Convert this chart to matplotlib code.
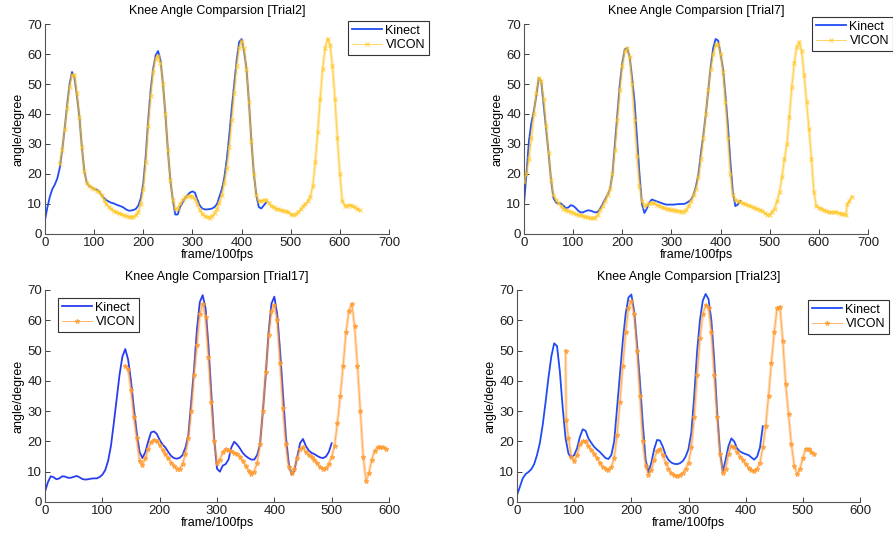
import matplotlib
matplotlib.use('Agg')
from matplotlib import pyplot as plt
import numpy as np

plt.rcParams['font.family'] = ['Liberation Sans', 'DejaVu Sans']

# frame step of the values
STEP = 5

# ---- Trial2 ----
kin2_start = 0
kin2 = [4.7, 9, 12.5, 15, 16.5, 18.5, 22, 28, 35, 43, 50, 54, 52, 46, 39, 29, 21, 17, 16, 15.5,
        15, 14.8, 14.2, 13, 12, 11.3, 10.8, 10.4, 10.2, 9.8, 9.5, 9.2, 8.8, 8.2, 7.8, 7.8, 8, 8.4, 9.5, 12,
        17, 26, 38, 48, 55, 59.5, 61, 58, 50, 40, 28, 18, 11.5, 6.5, 6.5, 9, 10.5, 12, 13, 13.8,
        14.2, 13.8, 11.5, 9.5, 8.5, 8.2, 8.2, 8.3, 8.5, 9, 10, 12.5, 15, 19, 25, 33, 42, 50, 58, 64,
        65, 61, 55, 44, 31, 20, 13, 9, 8.5, 9.5, 10.5]
vic2_start = 30
vic2 = [23.5, 28, 35, 42, 49, 53, 53, 47, 39, 29, 21, 17, 16, 15.5, 15, 14.5, 14, 13, 11.5, 10,
        9, 8.3, 7.7, 7.2, 7, 6.6, 6.3, 6, 5.8, 5.7, 5.8, 6.2, 7.5, 10, 15, 24, 36, 46, 54, 58.5,
        59.5, 57, 50, 40, 28, 18, 11.5, 8.5, 8.5, 10, 11.5, 12.2, 12.7, 12.8, 12.5, 11.8, 10, 8, 6.8, 6,
        5.6, 5.5, 6, 7, 8.5, 10.5, 13, 17, 22, 29, 38, 47, 56, 62, 64.5, 62, 55, 44, 31, 20,
        13, 11, 11, 11.2, 11.3, 10.5, 9.5, 9, 8.5, 8.2, 8, 7.8, 7.6, 7.2, 6.6, 6.3, 6.6, 7.2, 8.2, 9.2,
        10, 11, 12.5, 16, 24, 34, 45, 55, 62, 65, 63, 56, 45, 32, 20, 11, 9.5, 9.5, 9.6, 9.4,
        9, 8.5, 8]

# ---- Trial7 ----
kin7_start = 0
kin7 = [10, 20, 31, 37, 41, 46, 52, 51, 43, 35, 27, 18, 12, 10.5, 10.2, 10.2, 9.5, 8.7, 8.8, 9.6,
        9.4, 8.7, 7.8, 7.2, 7.2, 7.6, 7.9, 7.8, 7.5, 7.2, 7.3, 8.5, 10, 11.5, 13, 15, 20, 30, 40, 50,
        57, 61.5, 62, 59, 52, 44, 32, 20, 10, 7, 8.5, 10.5, 11.5, 11.2, 10.9, 10.6, 10.3, 10, 9.8, 9.8,
        9.8, 9.8, 9.9, 10, 10, 10, 10.3, 10.8, 11.5, 13, 16, 20, 27, 33, 40, 48, 56, 62, 65, 64.5,
        60, 55, 46, 36, 24, 14, 9.3, 9.8, 11]
vic7_start = 0
vic7 = [17.5, 20, 25, 32, 40, 47, 52, 51, 45, 36, 27, 18, 13, 11.5, 10.5, 9.5, 8.5, 8, 7.8, 7.5,
        7, 6.7, 6.4, 6.2, 6, 5.8, 5.6, 5.3, 5.2, 5.5, 6.5, 8, 9.5, 11, 13, 15, 20, 28, 38, 48,
        56, 61, 62, 59, 50, 38, 26, 16, 11, 9.5, 9.7, 10.3, 10.5, 10.2, 9.8, 9.5, 9, 8.7, 8.4, 8.2,
        8, 8, 7.8, 7.7, 7.5, 7.5, 8, 9.5, 11, 13, 15, 19, 25, 32, 40, 48, 55, 60, 63, 63.5,
        60, 54, 44, 32, 20, 13, 11.5, 11, 10.7, 10.3, 10, 9.6, 9.3, 9, 8.6, 8.3, 8, 7.6, 7, 6.5,
        6.5, 7.5, 8.5, 11, 14, 19, 25, 30, 39, 49, 57, 62.5, 64, 61, 53, 44, 35, 25, 14, 9.2,
        8.8, 8.5, 8, 7.6, 7.3, 7.2, 7.2, 7.2, 7, 6.8, 6.7, 6.2]
vic7_tail_x = [658, 662, 667]
vic7_tail = [10, 11, 12.5]

# ---- Trial17 ----
kin17_start = 0
kin17 = [3.4, 6.5, 8.5, 8.2, 7.5, 7.8, 8.5, 8.4, 8, 8, 8.3, 8.6, 8.2, 7.6, 7.4, 7.5, 7.7, 7.8, 7.8, 8.2,
         9, 10.5, 13.5, 18.5, 26, 34, 42, 48, 50.5, 47, 40, 31, 23, 16.5, 14.5, 16.5, 20, 23, 23.3, 22.5,
         20.5, 19, 18, 16.5, 15.2, 14.5, 14.3, 14.6, 15.5, 18, 22, 33, 44, 57, 66, 68.3, 64, 52, 36, 21,
         11, 10, 12, 12.5, 14, 18, 19.9, 19, 17.7, 16.2, 15.2, 14.5, 14, 14, 15.5, 19, 30, 42, 56, 65.5,
         67.8, 62, 50, 36, 22, 13, 9, 10.5, 15, 19.5, 20.8, 18.5, 17, 16.2, 15.8, 15.2, 14.7, 14.5, 15, 16.5,
         19.4]
vic17_start = 140
vic17 = [45, 44, 37, 28, 21, 13.5, 12.2, 14.5, 17.5, 19.8, 20.6, 20, 18.8, 17.2, 15.8, 14.6, 13, 12, 11, 11,
         12.5, 16, 21, 30, 42, 52, 62, 65.5, 61, 48, 33, 20, 13, 14, 16.5, 17.5, 17.3, 16.8, 16.3, 15.7,
         15, 13.5, 12, 10.3, 9.4, 10, 13, 19, 30, 43, 55, 63, 65, 60, 46, 31, 19, 11.5, 9.5, 11,
         14.5, 17.5, 18, 16.5, 15.5, 14.8, 14, 12.8, 11.5, 11, 11.3, 12.5, 15, 18.5, 26, 35, 45, 56, 63, 65.5,
         58, 45, 30, 15, 7, 9.5, 14, 17, 18, 18.2, 18, 17.5]

# ---- Trial23 ----
kin23_start = 0
kin23 = [2.3, 5, 7.8, 9.2, 9.9, 10.8, 12.5, 15.5, 19.5, 25.5, 33, 41, 48, 52.4, 51.5, 43, 31, 21, 16, 14.6,
         15.5, 17.7, 21.5, 24, 23.5, 21, 19.5, 18.2, 17.3, 16.5, 15.5, 14.5, 14.2, 15.5, 20, 31, 42, 53, 62, 67.5,
         68.5, 63, 52, 40, 26, 14, 9.8, 13, 17.5, 20.5, 20.3, 18.3, 15.5, 13.9, 13, 12.6, 12.5, 12.8, 13.5, 15,
         17.5, 23, 35, 49.6, 60, 66.5, 68.7, 67, 60, 47, 30, 17, 10, 14, 18.5, 21, 20, 17.7, 16.7, 16.2,
         15.8, 15.5, 14.7, 14, 15, 18, 25]
vic23_head_x = [85, 86]
vic23_head = [50, 27]
vic23_start = 90
vic23 = [21, 15, 13.5, 15.5, 19, 20.2, 20, 18.5, 17.3, 16, 14.5, 13, 11.5, 11, 10.7, 11.5, 14.5, 22, 33, 45,
         56, 64, 66.5, 62, 50, 35, 20, 12, 9, 10.5, 14, 17, 17.5, 15.5, 13, 11, 9.5, 8.8, 8.5, 8.8,
         9.5, 11, 13, 18, 28, 42, 54, 62, 65, 64, 56, 42, 28, 16, 9.5, 11, 16, 18.5, 18, 16.5,
         15, 13.8, 12.5, 11.3, 10.5, 10.3, 11, 13, 18, 25, 35, 46, 56, 64, 64.5, 53, 39, 29, 19, 12,
         9.2, 11, 14.5, 17.5, 17.5, 16.5, 15.8]


def frames(start, vals):
    return np.arange(start, start + STEP * len(vals), STEP)


W, H = 893, 535
fig = plt.figure(figsize=(W / 100, H / 100), dpi=100)

BLUE = '#1f4cf5'
BLUE2 = '#2a3cf0'
YELLOW = '#ffc51e'
ORANGE = '#ff9a2e'

panels = [
    # title, kinect, vicon, axes px (left, top, width, height), xmax, vicon colour, marker, kinect colour, legend px
    ('Trial2', (frames(kin2_start, kin2), kin2), (frames(vic2_start, vic2), vic2),
     (45, 24, 344, 210), 700, YELLOW, 'x', BLUE, (348, 21)),
    ('Trial7', (frames(kin7_start, kin7), kin7),
     (np.concatenate([frames(vic7_start, vic7), vic7_tail_x]), vic7 + vic7_tail),
     (524, 24, 344, 210), 700, YELLOW, 'x', BLUE, (812, 17)),
    ('Trial17', (frames(kin17_start, kin17), kin17), (frames(vic17_start, vic17), vic17),
     (45, 290, 344, 212), 600, ORANGE, '*', BLUE2, (58, 298)),
    ('Trial23', (frames(kin23_start, kin23), kin23),
     (np.concatenate([vic23_head_x, frames(vic23_start, vic23)]), vic23_head + vic23),
     (517, 290, 343, 212), 600, ORANGE, '*', BLUE, (808, 300)),
]

for title, kin, vic, (l, t, w, h), xmax, vcol, mk, kcol, (lx, ly) in panels:
    ax = fig.add_axes([l / W, 1 - (t + h) / H, w / W, h / H])
    ax.plot(kin[0], kin[1], color=kcol, lw=1.3, label='Kinect', zorder=2)
    # translucent band under the markers, like the dense VICON trace
    ax.plot(vic[0], vic[1], color=vcol, lw=2.2, alpha=0.35, zorder=3)
    ax.plot(vic[0], vic[1], color=vcol, lw=0.7, marker=mk, ms=3.5, mew=0.8,
            alpha=0.7, label='VICON', zorder=3)
    ax.set_xlim(0, xmax)
    ax.set_ylim(0, 70)
    ax.set_xticks(np.arange(0, xmax + 1, 100))
    ax.set_yticks(np.arange(0, 71, 10))
    ax.tick_params(direction='in', length=3.5, width=0.6, labelsize=9.5, pad=2, colors='#202020')
    for s in ['top', 'right']:
        ax.spines[s].set_visible(False)
    for s in ['left', 'bottom']:
        ax.spines[s].set_color('#555555')
        ax.spines[s].set_linewidth(0.8)
    ax.set_title('Knee Angle Comparsion [%s]' % title, fontsize=9, pad=7)
    ax.set_xlabel('frame/100fps', fontsize=9, labelpad=0)
    ax.set_ylabel('angle/degree', fontsize=9, labelpad=2)
    leg = ax.legend(loc='upper left', bbox_to_anchor=(lx / W, 1 - ly / H),
                    bbox_transform=fig.transFigure, borderaxespad=0, fontsize=9,
                    fancybox=False, framealpha=1, edgecolor='#333333',
                    handlelength=2.4, handletextpad=0.3, labelspacing=0.2, borderpad=0.3)
    leg.get_frame().set_linewidth(0.8)

fig.savefig('out.png', dpi=100)
